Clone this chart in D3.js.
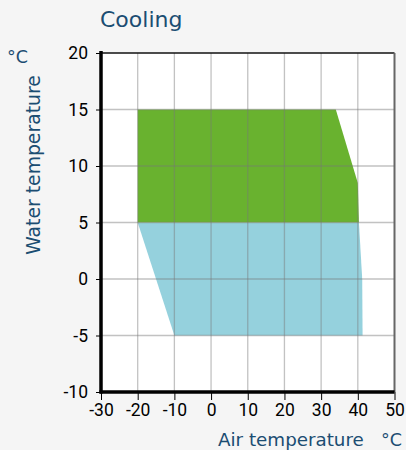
<!DOCTYPE html>
<html>
<head>
<meta charset="utf-8">
<script src="https://cdn.jsdelivr.net/npm/d3@7"></script>
<style>
  html, body { margin: 0; padding: 0; background: #f5f5f5; }
  svg { display: block; }
</style>
</head>
<body>
<svg id="chart" width="406" height="450"></svg>
<script>
// Operating envelope (air temperature °C, water temperature °C)
const xTicks = [-30, -20, -10, 0, 10, 20, 30, 40, 50];
const yTicks = [-10, -5, 0, 5, 10, 15, 20];
const upperZoneAir   = [-20, 34, 40, 40.3, -20];
const upperZoneWater = [15, 15, 8.5, 5, 5];
const lowerZoneAir   = [-20, 40.3, 41.2, 41.3, -10];
const lowerZoneWater = [5, 5, 0, -5, -5];

const svg = d3.select("#chart");
const x = d3.scaleLinear().domain([-30, 50]).range([101, 394.5]);
const y = d3.scaleLinear().domain([-10, 20]).range([392, 53]);
const fontTick = "Roboto, 'Liberation Sans', Arial, sans-serif";
const fontTitle = "'DejaVu Sans', 'Open Sans', sans-serif";
const navy = "#1b4d72";

// plot background
svg.append("rect")
  .attr("x", x(-30)).attr("y", y(20))
  .attr("width", x(50) - x(-30)).attr("height", y(-10) - y(20))
  .attr("fill", "#ffffff");

const line = d3.line().x(d => x(d[0])).y(d => y(d[1]));
const pts = (a, w) => a.map((v, i) => [v, w[i]]);

svg.append("path")
  .attr("d", line(pts(lowerZoneAir, lowerZoneWater)) + "Z")
  .attr("fill", "#95d1dd");
svg.append("path")
  .attr("d", line(pts(upperZoneAir, upperZoneWater)) + "Z")
  .attr("fill", "#69b22f");

// grid
const grid = svg.append("g").attr("stroke", "#777").attr("stroke-opacity", 0.45).attr("stroke-width", 1.3);
xTicks.slice(1, -1).forEach(t => {
  grid.append("line").attr("x1", x(t)).attr("x2", x(t)).attr("y1", y(20)).attr("y2", y(-10));
});
yTicks.slice(1, -1).forEach(t => {
  grid.append("line").attr("x1", x(-30)).attr("x2", x(50)).attr("y1", y(t)).attr("y2", y(t));
});

// frame top/right
svg.append("line").attr("x1", x(-30)).attr("x2", x(50)).attr("y1", y(20)).attr("y2", y(20))
  .attr("stroke", "#111").attr("stroke-width", 1.5);
svg.append("line").attr("x1", x(50)).attr("x2", x(50)).attr("y1", y(20)).attr("y2", y(-10))
  .attr("stroke", "#666").attr("stroke-width", 2);

// axes
const fmt = d => String(d);
const xAxis = d3.axisBottom(x).tickValues(xTicks).tickSize(8).tickPadding(3).tickFormat(fmt);
const yAxis = d3.axisLeft(y).tickValues(yTicks).tickSize(5).tickPadding(8).tickFormat(fmt);

const gx = svg.append("g").attr("transform", `translate(0,${y(-10)})`).call(xAxis);
const gy = svg.append("g").attr("transform", `translate(${x(-30)},0)`).call(yAxis);
[gx, gy].forEach(g => {
  g.select(".domain").remove();
  g.selectAll(".tick line").attr("stroke", "#000").attr("stroke-width", 1);
  g.selectAll(".tick text").attr("fill", "#000").attr("font-size", 17.5).attr("font-family", fontTick);
});
gx.selectAll(".tick text").attr("dy", "0.72em");

// thick axis lines
svg.append("line").attr("x1", x(-30)).attr("x2", x(-30)).attr("y1", y(20) - 2).attr("y2", y(-10) + 1.5)
  .attr("stroke", "#000").attr("stroke-width", 3.5);
svg.append("line").attr("x1", x(-30) - 1.5).attr("x2", x(50)).attr("y1", y(-10)).attr("y2", y(-10))
  .attr("stroke", "#000").attr("stroke-width", 3.5);

// titles
svg.append("text").attr("x", 100).attr("y", 27).text("Cooling")
  .attr("fill", navy).attr("font-size", 22).attr("font-family", fontTitle);
svg.append("text").attr("transform", "translate(39.5,165) rotate(-90)").attr("text-anchor", "middle")
  .text("Water temperature").attr("fill", navy).attr("font-size", 18.8).attr("font-family", fontTitle);
svg.append("text").attr("x", 7).attr("y", 62.5).text("°C")
  .attr("fill", navy).attr("font-size", 17.5).attr("font-family", fontTitle);
svg.append("text").attr("x", 218).attr("y", 446).text("Air temperature")
  .attr("fill", navy).attr("font-size", 18.3).attr("font-family", fontTitle);
svg.append("text").attr("x", 381).attr("y", 446).text("°C")
  .attr("fill", navy).attr("font-size", 17.5).attr("font-family", fontTitle);
</script>
</body>
</html>
